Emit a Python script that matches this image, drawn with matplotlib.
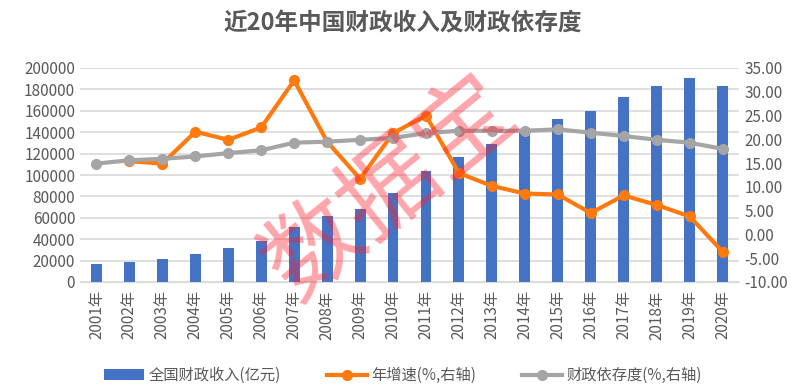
import numpy as np
import matplotlib.pyplot as plt

plt.rcParams['font.family'] = ['Noto Sans CJK SC', 'DejaVu Sans']

years = [f'{y}年' for y in range(2001, 2021)]
revenue = [16386, 18904, 21715, 26396, 31649, 38760, 51322, 61330, 68518, 83102,
           103874, 117254, 129210, 140370, 152269, 159605, 172593, 183360, 190390, 182895]
growth = [np.nan, 15.4, 14.9, 21.6, 19.9, 22.5, 32.4, 19.5, 11.7, 21.3,
          25.0, 12.9, 10.2, 8.6, 8.4, 4.5, 8.2, 6.2, 3.8, -3.6]
dependency = [14.9, 15.6, 15.9, 16.4, 17.1, 17.7, 19.3, 19.5, 19.9, 20.3,
              21.3, 21.8, 21.8, 21.8, 22.1, 21.4, 20.7, 19.9, 19.3, 18.0]

c_bar = '#4472C4'
c_org = '#FF7A0E'
c_gry = '#A5A5A5'
c_txt = '#595959'

fig = plt.figure(figsize=(8.06, 3.87), dpi=100)
ax = fig.add_axes([80 / 806, 105 / 387, 659 / 806, 214 / 387])
ax2 = ax.twinx()

x = np.arange(len(years))
b = ax.bar(x, revenue, width=0.33, color=c_bar, zorder=2, label='全国财政收入(亿元)')
l1, = ax2.plot(x, growth, color=c_org, lw=3, marker='o', ms=7, zorder=3, label='年增速(%,右轴)')
l2, = ax2.plot(x, dependency, color=c_gry, lw=3, marker='o', ms=7, zorder=3, label='财政依存度(%,右轴)')

ax.set_xlim(-0.5, 19.5)
ax.set_ylim(0, 200000)
ax.set_yticks(range(0, 200001, 20000))
ax2.set_ylim(-10, 35)
ax2.set_yticks(range(-10, 36, 5))
ax2.set_yticklabels([f'{v:.2f}' for v in range(-10, 36, 5)])

ax.yaxis.grid(True, color='#D9D9D9', lw=1.2, zorder=0)
ax.set_axisbelow(True)
for a in (ax, ax2):
    for s in a.spines.values():
        s.set_visible(False)
    a.tick_params(length=0, labelsize=11, colors=c_txt)
ax.spines['bottom'].set_visible(True)
ax.spines['bottom'].set_color('#D9D9D9')
ax.set_xticks(x)
ax.set_xticklabels(years, rotation=90)
ax.tick_params(axis='x', pad=6)
ax2.tick_params(axis='y', pad=4)

fig.text(0.5, 0.94, '近20年中国财政收入及财政依存度', ha='center', va='center',
         fontsize=17, fontweight='bold', color=c_txt)

fig.legend(handles=[b, l1, l2], loc='center', bbox_to_anchor=(0.5, 0.03), ncol=3,
           frameon=False, fontsize=11, labelcolor=c_txt, handlelength=2.6,
           columnspacing=3, handletextpad=0.3)

# watermark
fig.text(0.485, 0.51, '数据宝', rotation=39, ha='center', va='center', fontsize=70,
         color='#FF2030', alpha=0.4, zorder=10)

fig.savefig('out.png', dpi=100)
